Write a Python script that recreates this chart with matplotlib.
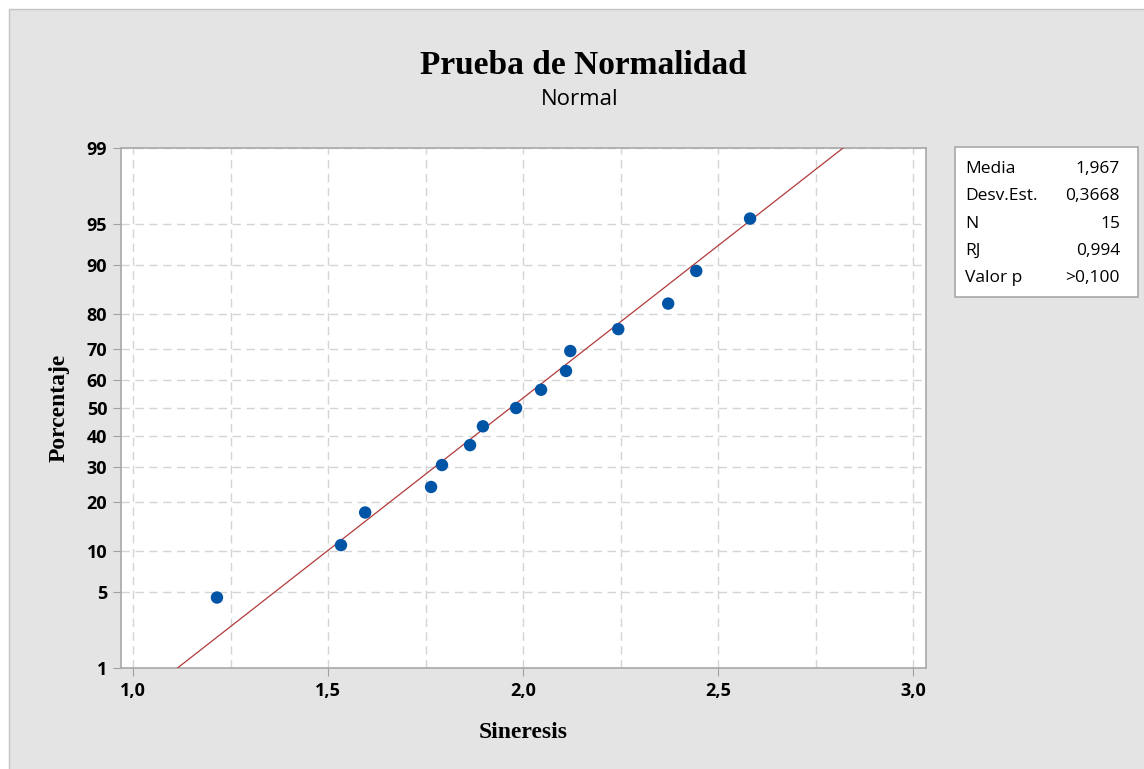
import numpy as np
import matplotlib.pyplot as plt
from matplotlib.patches import Rectangle
from statistics import NormalDist

# data
sineresis = [1.215, 1.533, 1.595, 1.764, 1.792, 1.864, 1.897, 1.982,
             2.046, 2.110, 2.121, 2.244, 2.372, 2.444, 2.582]
porcentaje = [4.5, 11.0, 17.5, 24.0, 30.5, 37.0, 43.5, 50.0,
              56.5, 63.0, 69.5, 76.0, 82.5, 89.0, 95.5]
media = 1.967
desv = 0.3668
y_ticks = [1, 5, 10, 20, 30, 40, 50, 60, 70, 80, 90, 95, 99]
x_ticks = [1.0, 1.5, 2.0, 2.5, 3.0]
stat_names = ['Media', 'Desv.Est.', 'N', 'RJ', 'Valor p']
stat_values = ['1,967', '0,3668', '15', '0,994', '>0,100']

nd = NormalDist()
_ppf = np.vectorize(lambda p: nd.inv_cdf(min(max(p / 100.0, 1e-9), 1 - 1e-9)),
                    otypes=[float])
_cdf = np.vectorize(lambda z: 100.0 * nd.cdf(z), otypes=[float])

sans = ['Open Sans', 'DejaVu Sans']
serif = 'Liberation Serif'
W, H = 1144, 769

fig = plt.figure(figsize=(11.44, 7.69), dpi=100)
fig.patch.set_facecolor('white')
# gray panel with thin outline, white margin at top-left
fig.patches.append(Rectangle((9 / W, -0.01), 1.02, 1 - 9 / H + 0.01,
                             transform=fig.transFigure, facecolor='#e4e4e4',
                             edgecolor='#c4c4c4', lw=1, zorder=-10))

ax = fig.add_axes([0.1058, 0.1313, 0.7036, 0.6762])
ax.set_yscale('function', functions=(_ppf, _cdf))

# fitted line
pl = np.array([1.0, 99.0])
xl = media + desv * _ppf(pl)
ax.plot(xl, pl, color='#b23a3a', lw=0.9, zorder=3)
ax.scatter(sineresis, porcentaje, s=80, color='#0054a6', zorder=4, edgecolors='none')

ax.set_xlim(0.969, 3.033)
ax.set_ylim(1, 99)
ax.set_xticks(x_ticks)
ax.set_xticklabels([f'{v:.1f}'.replace('.', ',') for v in x_ticks])
ax.set_xticks(np.arange(1.0, 3.01, 0.25), minor=True)
ax.set_yticks(y_ticks)
ax.set_yticklabels([str(v) for v in y_ticks])
ax.yaxis.set_minor_locator(plt.NullLocator())

ax.grid(True, which='both', axis='x', color='#d4d4d4', ls=(0, (6, 4)), lw=1)
ax.grid(True, which='major', axis='y', color='#d4d4d4', ls=(0, (6, 4)), lw=1)
ax.tick_params(which='minor', length=0)
ax.tick_params(which='major', length=6, color='#a0a0a0', labelsize=13, pad=4)
for lab in ax.get_xticklabels() + ax.get_yticklabels():
    lab.set_family(sans)
    lab.set_fontweight('bold')
for sp in ax.spines.values():
    sp.set_color('#a8a8a8')
    sp.set_linewidth(1.2)

ax.set_xlabel('Sineresis', family=serif, fontweight='bold', fontsize=17, labelpad=16)
ax.set_ylabel('Porcentaje', family=serif, fontweight='bold', fontsize=17, labelpad=12)

fig.text(0.5096, 0.915, 'Prueba de Normalidad', family=serif, fontweight='bold',
         fontsize=24, ha='center', va='center')
fig.text(0.507, 0.870, 'Normal', family=sans, fontsize=16, ha='center', va='center')

# stats box
fig.patches.append(Rectangle((955 / W, 1 - 297 / H), 183 / W, 150 / H,
                             transform=fig.transFigure, facecolor='white',
                             edgecolor='#a8a8a8', lw=1.2))
for i, (n, v) in enumerate(zip(stat_names, stat_values)):
    yy = 1 - (169 + i * 27.3) / H
    fig.text(965 / W, yy, n, family=sans, fontsize=12.5, ha='left', va='center')
    fig.text(1120 / W, yy, v, family=sans, fontsize=12.5, ha='right', va='center')

fig.savefig('out.png', dpi=100, facecolor=fig.get_facecolor())
